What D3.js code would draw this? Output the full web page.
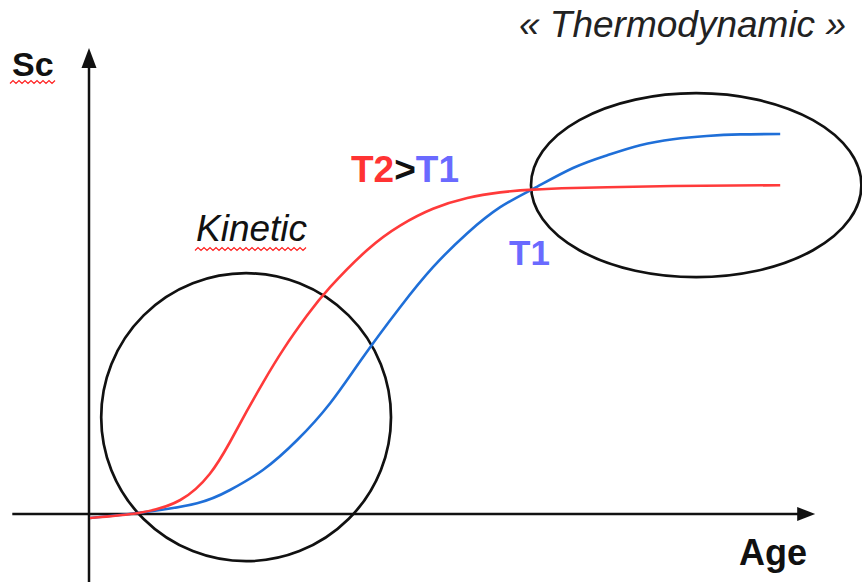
<!DOCTYPE html>
<html>
<head>
<meta charset="utf-8">
<script src="https://cdn.jsdelivr.net/npm/d3@7"></script>
<style>
  html, body { margin: 0; padding: 0; background: #fff; }
  svg { display: block; font-family: "Liberation Sans", Arial, sans-serif; }
</style>
</head>
<body>
<div id="chart"></div>
<script>
// --------------------------------------
//  Data
// --------------------------------------

// T2 (red, higher temperature)
const ageT2 = [0, 0.71, 1.29, 1.71, 2.0, 2.24, 2.47, 2.76, 3.1, 3.43, 3.96, 4.43, 4.9, 5.39, 5.86, 6.33, 6.9, 7.39, 8.33, 9.86];
const scT2  = [-0.1, 0.03, 0.35, 1.0, 1.8, 2.57, 3.28, 4.11, 4.96, 5.67, 6.6, 7.21, 7.63, 7.9, 8.04, 8.11, 8.15, 8.17, 8.2, 8.22];

// T1 (blue)
const ageT1 = [0, 0.71, 1.53, 2.0, 2.47, 2.96, 3.43, 3.9, 4.43, 4.9, 5.39, 5.86, 6.33, 6.9, 7.39, 7.86, 8.33, 8.81, 9.29, 9.86];
const scT1  = [-0.1, 0.03, 0.27, 0.6, 1.1, 1.85, 2.77, 3.92, 5.17, 6.17, 7.02, 7.67, 8.13, 8.65, 8.97, 9.22, 9.37, 9.45, 9.49, 9.5];

// zones: [center age, center Sc, radius age, radius Sc]
const zoneNames = ["Kinetic", "« Thermodynamic »"];
const zoneCenterAge = [2.23, 8.66];
const zoneCenterSc  = [2.42, 8.22];
const zoneRadiusAge = [2.07, 2.36];
const zoneRadiusSc  = [3.6, 2.3];

// --------------------------------------
//  Canvas
// --------------------------------------

const width = 862, height = 582;

const svg = d3.select("#chart")
  .append("svg")
    .attr("width", width)
    .attr("height", height)
    .attr("viewBox", [0, 0, width, height]);

// --------------------------------------
// Scales
// --------------------------------------

const x = d3.scaleLinear().domain([0, 10]).range([90, 790]);
const y = d3.scaleLinear().domain([0, 10]).range([514, 114]);

// --------------------------------------
//  Axes (plain arrows)
// --------------------------------------

const axisColor = "#111";
const x0 = x(0), y0 = y(0);
const xEnd = x(10.36), yEnd = y(11.65);

svg.append("line")
    .attr("x1", x(-1.11)).attr("y1", y0)
    .attr("x2", xEnd - 16).attr("y2", y0)
    .attr("stroke", axisColor).attr("stroke-width", 2.5);

svg.append("path")
    .attr("d", `M${xEnd},${y0} L${xEnd - 18},${y0 - 7} L${xEnd - 18},${y0 + 7} Z`)
    .attr("fill", axisColor);

svg.append("line")
    .attr("x1", x0 - 1).attr("y1", y(-1.7))
    .attr("x2", x0 - 1).attr("y2", yEnd + 16)
    .attr("stroke", axisColor).attr("stroke-width", 2.5);

svg.append("path")
    .attr("d", `M${x0 - 1},${yEnd} L${x0 - 8.5},${yEnd + 20} L${x0 + 6.5},${yEnd + 20} Z`)
    .attr("fill", axisColor);

// --------------------------------------
// Zones
// --------------------------------------

svg.selectAll("ellipse.zone")
  .data(zoneNames)
  .join("ellipse")
    .attr("class", "zone")
    .attr("cx", (d, i) => x(zoneCenterAge[i]))
    .attr("cy", (d, i) => y(zoneCenterSc[i]))
    .attr("rx", (d, i) => x(zoneRadiusAge[i]) - x(0))
    .attr("ry", (d, i) => y(0) - y(zoneRadiusSc[i]))
    .attr("fill", "none")
    .attr("stroke", "#111")
    .attr("stroke-width", 2.7);

// --------------------------------------
// Curves
// --------------------------------------

const line = d3.line()
    .x(d => x(d[0]))
    .y(d => y(d[1]))
    .curve(d3.curveNatural);

const series = [
  { name: "T1", color: "#1f6fd8", pts: d3.zip(ageT1, scT1) },
  { name: "T2", color: "#ff3a3a", pts: d3.zip(ageT2, scT2) }
];

svg.selectAll("path.curve")
  .data(series)
  .join("path")
    .attr("class", "curve")
    .attr("d", d => line(d.pts))
    .attr("fill", "none")
    .attr("stroke", d => d.color)
    .attr("stroke-width", 2.6);

// --------------------------------------
// Labels
// --------------------------------------

svg.append("text")
    .attr("x", 12).attr("y", 76)
    .attr("font-size", 34).attr("font-weight", "bold")
    .attr("fill", "#111")
    .text("Sc");

svg.append("text")
    .attr("x", 739).attr("y", 565)
    .attr("font-size", 36).attr("font-weight", "bold")
    .attr("fill", "#111")
    .text("Age");

const tLabel = svg.append("text")
    .attr("x", 351).attr("y", 182)
    .attr("font-size", 37).attr("font-weight", "bold");
tLabel.append("tspan").attr("fill", "#ff3333").text("T2");
tLabel.append("tspan").attr("fill", "#111").text(">");
tLabel.append("tspan").attr("fill", "#6a6aff").text("T1");

svg.append("text")
    .attr("x", 509).attr("y", 265)
    .attr("font-size", 35).attr("font-weight", "bold")
    .attr("fill", "#6a6aff")
    .text("T1");

svg.append("text")
    .attr("x", 196).attr("y", 241)
    .attr("font-size", 37).attr("font-style", "italic")
    .attr("fill", "#111")
    .text(zoneNames[0]);

svg.append("text")
    .attr("x", 519).attr("y", 37)
    .attr("font-size", 37).attr("font-style", "italic")
    .attr("fill", "#222")
    .text(zoneNames[1]);

// spell-check squiggles
function squiggle(x1, x2, yy) {
  const pts = [];
  for (let px = x1, k = 0; px <= x2; px += 3, k++) pts.push([px, yy + (k % 2 ? -1.5 : 1.5)]);
  return d3.line()(pts);
}
[[10, 57, 82], [195, 308, 249]].forEach(s => {
  svg.append("path")
      .attr("d", squiggle(s[0], s[1], s[2]))
      .attr("fill", "none")
      .attr("stroke", "#ff2020")
      .attr("stroke-width", 1.2);
});
</script>
</body>
</html>
